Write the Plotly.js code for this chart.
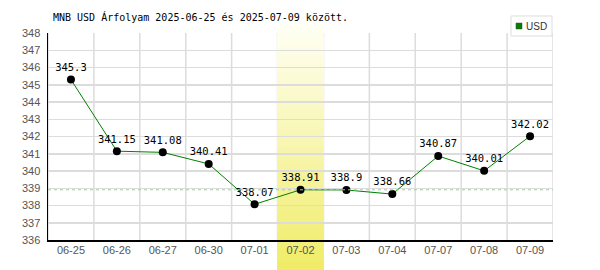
<!DOCTYPE html>
<html><head><meta charset="utf-8">
<script src="https://cdn.plot.ly/plotly-3.0.1.min.js"></script>
<style>html,body{margin:0;padding:0;background:#fff}#c{width:600px;height:270px}</style>
</head><body><div id="c"></div>
<script>
const dates = ["06-25","06-26","06-27","06-30","07-01","07-02","07-03","07-04","07-07","07-08","07-09"];
const rates = [345.3,341.15,341.08,340.41,338.07,338.91,338.9,338.66,340.87,340.01,342.02];
const rateLabels = ["345.3","341.15","341.08","340.41","338.07","338.91","338.9","338.66","340.87","340.01","342.02"];
const highlightIndex = 5;
const refValue = 338.91;
const yTicks = [336,337,338,339,340,341,342,343,344,345,346,347,348];
const seriesName = "USD";

const W = 600, H = 270;
const plotLeft = 48, plotRight = 553, plotTop = 33, plotBottom = 240;
const plotH = plotBottom - plotTop, plotW = plotRight - plotLeft;
const px = x => (x - plotLeft) / plotW;
const py = y => (plotBottom - y) / plotH;
const shapes = [];
for (let i = 0; i <= dates.length; i++) {
  shapes.push({type:'line', xref:'x', yref:'paper', x0:i-0.5, x1:i-0.5, y0:0, y1:1, line:{color:'#dcdcdc', width:1.5}, layer:'below'});
}
const yTopPaper = py(24);
const yBotPaper = py(H);
const N = 60;
const c0 = [255,255,244], c1 = [240,236,104];
for (let i = 0; i < N; i++) {
  const t = i / (N - 1);
  const col = c0.map((v, k) => Math.round(v + (c1[k] - v) * t));
  const y1 = yTopPaper - (yTopPaper - yBotPaper) * i / N;
  shapes.push({type:'rect', xref:'x', yref:'paper', x0:highlightIndex-0.5, x1:highlightIndex+0.5, y0:yBotPaper, y1:y1, fillcolor:`rgb(${col})`, line:{width:0}, layer:'below'});
}
shapes.push({type:'line', xref:'paper', yref:'y', x0:0, x1:1, y0:refValue, y1:refValue, line:{color:'#9fcf9f', width:1, dash:'3px,3px'}, layer:'above'});
shapes.push({type:'rect', xref:'paper', yref:'paper', x0:px(511), x1:px(552), y0:py(36), y1:py(16), fillcolor:'#fff', line:{color:'#dddddd', width:1}});
shapes.push({type:'rect', xref:'paper', yref:'paper', x0:px(516), x1:px(522), y0:py(29), y1:py(23), fillcolor:'#008000', line:{color:'#444', width:0.5}});

const trace = {
  x: dates.map((d,i)=>i), y: rates, mode: 'lines+markers+text',
  text: rateLabels, textposition: 'top center',
  textfont: {family: 'DejaVu Sans Mono', size: 10.5, color: '#000'},
  line: {color: '#008000', width: 1},
  marker: {color: '#000', size: 8},
  name: seriesName, showlegend: false, cliponaxis: false, hoverinfo: 'none'
};

const layout = {
  width: W, height: H,
  margin: {l: plotLeft, r: W - plotRight, t: plotTop, b: H - plotBottom, pad: 0},
  paper_bgcolor: '#fff', plot_bgcolor: 'rgba(0,0,0,0)',
  title: {text: 'MNB USD Árfolyam 2025-06-25 és 2025-07-09 között.', font: {family: 'DejaVu Sans Mono', size: 10, color: '#000'}, x: 53/W, xanchor: 'left', y: 1 - 17/H, yanchor: 'middle'},
  xaxis: {range: [-0.5, 10.5], tickvals: dates.map((d,i)=>i), ticktext: dates, showgrid: false, zeroline: false,
    showline: true, linecolor: '#000', linewidth: 1.5, ticks: '', ticklabelstandoff: -1, tickfont: {family: 'Liberation Sans', size: 11, color: '#555'}, fixedrange: true},
  yaxis: {range: [336, 348], tickvals: yTicks, showgrid: true, gridcolor: '#dcdcdc', gridwidth: 1.5, zeroline: false,
    showline: true, linecolor: '#000', linewidth: 1.5, ticks: '', ticklabelstandoff: 4, tickfont: {family: 'Liberation Sans', size: 11, color: '#555'}, fixedrange: true},
  shapes: shapes,
  annotations: [{xref:'paper', yref:'paper', x:px(524), y:py(26), xanchor:'left', yanchor:'middle', text:seriesName, showarrow:false, font:{family:'Liberation Sans', size:10, color:'#333'}}],
  showlegend: false
};
Plotly.newPlot('c', [trace], layout, {staticPlot: true, displayModeBar: false});
</script></body></html>
